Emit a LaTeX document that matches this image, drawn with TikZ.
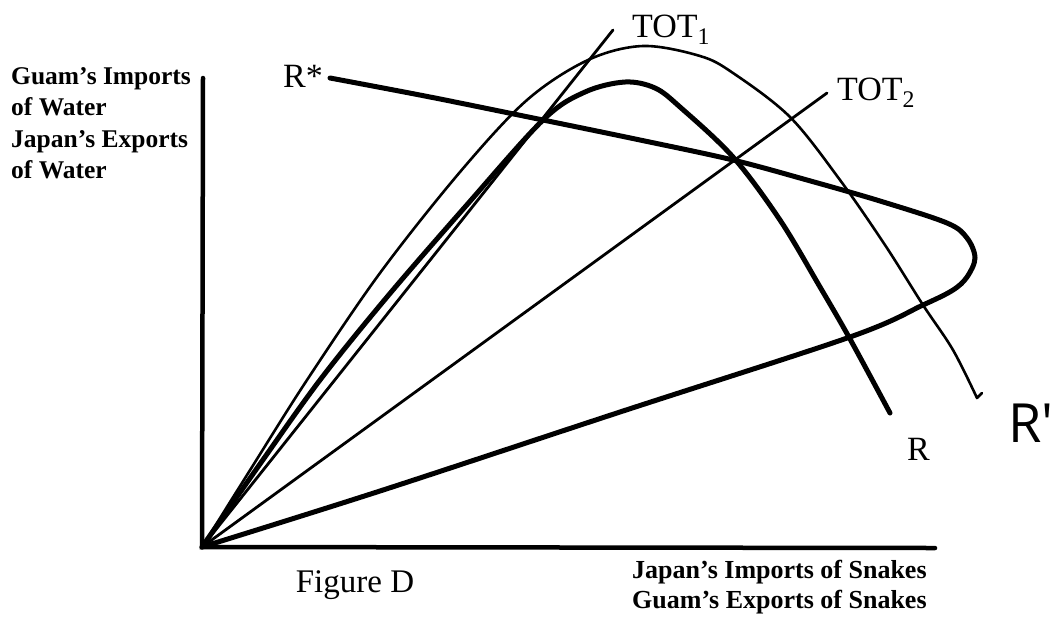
\documentclass[tikz,border=0pt]{standalone}
\usepackage{fontspec}
\setmainfont{Liberation Serif}
\newfontfamily\handfont{Open Sans}
\usetikzlibrary{positioning}
\tikzset{
  axisline/.style={line width=4.5pt, line cap=round, line join=miter},
  thickcurve/.style={line width=5pt, line cap=round, line join=round},
  thincurve/.style={line width=2.6pt, line cap=round, line join=round},
  totline/.style={line width=2.8pt, line cap=round},
  axislabel/.style={font=\fontsize{25.5}{31}\selectfont\bfseries, align=left, inner sep=0pt},
  curvelabel/.style={font=\fontsize{34}{40}\selectfont, inner sep=0pt},
  handlabel/.style={font=\handfont\fontsize{54}{60}\selectfont, inner sep=0pt}
}

\begin{document}
\begin{tikzpicture}[x=1pt,y=-1pt]
  \useasboundingbox (0,0) rectangle (1054,630);
  \coordinate (origin) at (202,547);
  \coordinate (ytop) at (203,78);
  \coordinate (xend) at (935,548);
  \coordinate (tot1end) at (613,30);
  \coordinate (tot2end) at (827,93);

  % axes
  \draw[axisline] (ytop) -- (origin) -- (xend);

  % terms of trade rays
  \draw[totline] (origin) -- (tot1end);
  \draw[totline] (origin) -- (tot2end);

  % R' (thin offer curve)
  \draw[thincurve] plot[smooth, tension=0.55] coordinates {(202,547) (252,467) (307,380) (380,273) (460,172) (527,100) (588,60) (643,46) (700,56) (733,73) (790,117) (840,180) (885,245) (923,305) (953,350) (977,398)} -- (982,393);

  % R (thick offer curve)
  \draw[thickcurve] plot[smooth, tension=0.55] coordinates {(202,547) (260,464) (320,380) (387,297) (465,207) (543,120) (585,92) (625,82) (655,88) (680,107) (733,157) (780,220) (820,287) (850,339) (890,413)};

  % R* (loop back to the origin)
  \draw[thickcurve] plot[smooth, tension=0.55] coordinates {(330,78) (430,97) (543,120) (640,140) (733,160) (807,180) (880,201) (947,223) (967,238) (975,258) (967,277) (953,290) (923,305) (850,337) (620,412) (380,491) (202,547)};

  % labels
  \node[curvelabel, anchor=base east] (rstarlbl) at (323,87) {R*};
  \node[curvelabel, anchor=base west] (tot1lbl) at (632,37) {TOT\textsubscript{1}};
  \node[curvelabel, anchor=base west] (tot2lbl) at (837,100) {TOT\textsubscript{2}};
  \node[curvelabel, anchor=base west] (rlbl) at (907,460) {R};
  \node[handlabel, anchor=base west] (rprimelbl) at (1008,442) {R'};

  \node[axislabel, anchor=north west] (ylabtop) at (11,67) {Guam's Imports\\of Water};
  \node[axislabel, anchor=north west] (ylabbot) at (11,130) {Japan's Exports\\of Water};
  \node[curvelabel, font=\fontsize{33}{38}\selectfont] (figlbl) at (355,585) {Figure D};
  \node[axislabel, font=\fontsize{26}{30}\selectfont\bfseries, anchor=north west] (xlab) at (632,560) {Japan's Imports of Snakes\\Guam's Exports of Snakes};
\end{tikzpicture}
\end{document}
